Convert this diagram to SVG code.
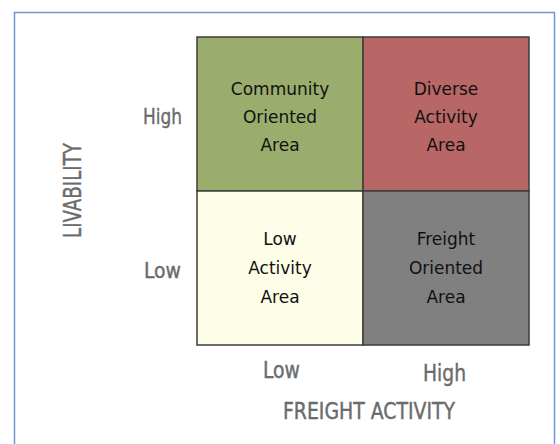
<svg xmlns="http://www.w3.org/2000/svg" width="560" height="444" viewBox="0 0 560 444">
<style>
.cell{stroke:#3c3c3c;stroke-width:1.5}
.ct{font-family:"DejaVu Sans",sans-serif;font-size:17px;fill:#111;text-anchor:middle}
.ax{font-family:"DejaVu Sans Condensed","DejaVu Sans",sans-serif;font-stretch:condensed;fill:#6b6b6b;stroke:#6b6b6b;stroke-width:0.4}
</style>
<rect x="0" y="0" width="560" height="444" fill="#ffffff"/>
<rect x="14.5" y="12.5" width="540" height="460" fill="none" stroke="#6f96cf" stroke-width="1.5"/>
<g id="community">
<rect class="cell" x="197" y="37" width="166" height="154" fill="#9bad6d"/>
<text class="ct" x="280" y="95">Community</text>
<text class="ct" x="280" y="123">Oriented</text>
<text class="ct" x="280" y="151">Area</text>
</g>
<g id="diverse">
<rect class="cell" x="363" y="37" width="166" height="154" fill="#b86666"/>
<text class="ct" x="446" y="95">Diverse</text>
<text class="ct" x="446" y="123">Activity</text>
<text class="ct" x="446" y="151">Area</text>
</g>
<g id="low">
<rect class="cell" x="197" y="191" width="166" height="154" fill="#fdfde8"/>
<text class="ct" x="280" y="245">Low</text>
<text class="ct" x="280" y="274">Activity</text>
<text class="ct" x="280" y="303">Area</text>
</g>
<g id="freight">
<rect class="cell" x="363" y="191" width="166" height="154" fill="#808080"/>
<text class="ct" x="446" y="245">Freight</text>
<text class="ct" x="446" y="274">Oriented</text>
<text class="ct" x="446" y="303">Area</text>
</g>
<g id="connectors"></g>
<g id="axes">
<text class="ax" x="143" y="124" font-size="22" textLength="39" lengthAdjust="spacingAndGlyphs">High</text>
<text class="ax" x="144" y="278" font-size="22" textLength="37" lengthAdjust="spacingAndGlyphs">Low</text>
<text class="ax" x="263" y="378" font-size="23" textLength="37" lengthAdjust="spacingAndGlyphs">Low</text>
<text class="ax" x="423" y="381" font-size="23" textLength="43" lengthAdjust="spacingAndGlyphs">High</text>
<text class="ax" x="283" y="419" font-size="23" textLength="172" lengthAdjust="spacingAndGlyphs">FREIGHT ACTIVITY</text>
<text class="ax" transform="translate(81,238) rotate(-90)" x="0" y="0" font-size="24" textLength="95" lengthAdjust="spacingAndGlyphs">LIVABILITY</text>
</g>
</svg>
